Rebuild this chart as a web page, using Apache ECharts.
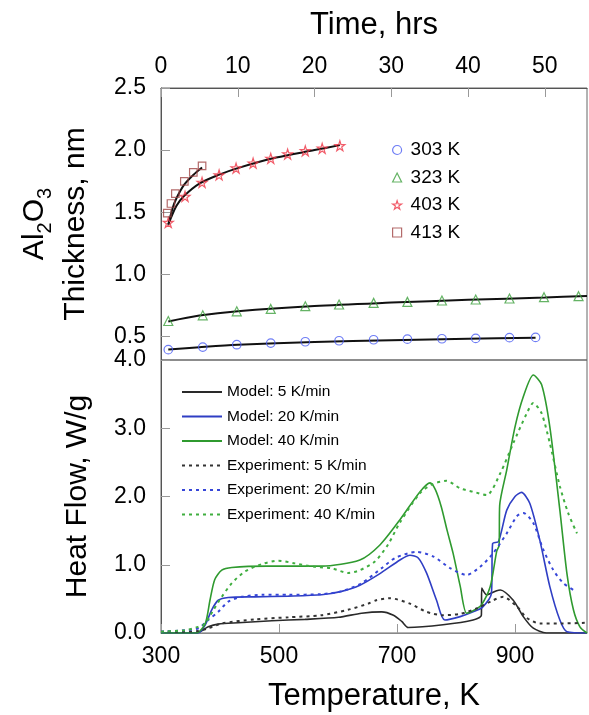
<!DOCTYPE html>
<html>
<head>
<meta charset="utf-8">
<script src="https://cdn.jsdelivr.net/npm/echarts@6/dist/echarts.min.js"></script>
<style>
html, body { margin: 0; padding: 0; background: #fff; }
#chart { width: 589px; height: 715px; }
</style>
</head>
<body>
<div id="chart"></div>
<script>
// top panel: oxide thickness vs time
var t303 = [0.95, 5.44, 9.87, 14.3, 18.8, 23.2, 27.7, 32.1, 36.6, 41.0, 45.4, 48.8];
var v303 = [0.393, 0.414, 0.433, 0.446, 0.457, 0.465, 0.473, 0.478, 0.481, 0.484, 0.49, 0.492];
var t323 = [0.95, 5.44, 9.87, 14.3, 18.8, 23.2, 27.7, 32.1, 36.6, 41.0, 45.4, 49.9, 54.4];
var v323 = [0.624, 0.670, 0.702, 0.721, 0.743, 0.757, 0.770, 0.778, 0.789, 0.797, 0.805, 0.816, 0.824];
var t403 = [0.95, 3.13, 5.35, 7.57, 9.78, 12.0, 14.3, 16.5, 18.8, 21.0, 23.3];
var v403 = [1.417, 1.627, 1.74, 1.80, 1.855, 1.895, 1.933, 1.968, 1.994, 2.014, 2.035];
var t413 = [0.82, 1.3, 1.87, 3.04, 4.21, 5.35];
var v413 = [1.492, 1.57, 1.65, 1.748, 1.82, 1.873];

// fitted curves (black)
var fit303T = [0.95, 5, 10, 20, 30, 40, 48.8];
var fit303V = [0.395, 0.413, 0.432, 0.455, 0.470, 0.481, 0.49];
var fit323T = [0.95, 5, 10, 20, 30, 40, 50, 55.5];
var fit323V = [0.62, 0.668, 0.703, 0.745, 0.772, 0.795, 0.813, 0.826];
var fit403T = [0.95, 2, 3, 5, 7.5, 10, 15, 20, 23.3];
var fit403V = [1.40, 1.55, 1.63, 1.73, 1.80, 1.855, 1.94, 2.0, 2.04];
var fit413T = [0.95, 1.5, 2, 3, 4.2, 5.35];
var fit413V = [1.40, 1.53, 1.61, 1.72, 1.80, 1.86];

// bottom panel: heat flow vs temperature
var m5T = [300, 360, 380, 397, 431, 488, 544, 601, 640, 674, 694, 708, 719, 778, 829, 843, 843.5, 852, 869, 875, 897, 914, 931, 953, 1022];
var m5V = [0, 0, 0.09, 0.13, 0.15, 0.18, 0.20, 0.23, 0.29, 0.31, 0.26, 0.17, 0.08, 0.12, 0.19, 0.26, 0.66, 0.56, 0.62, 0.63, 0.48, 0.24, 0.07, 0, 0];
var m20T = [300, 363, 375, 386, 397, 414, 459, 516, 572, 606, 637, 671, 705, 722, 736, 750, 767, 781, 807, 829, 845, 860, 862, 872, 886, 900, 911, 925, 942, 959, 976, 988, 1022];
var m20V = [0, 0, 0.12, 0.34, 0.48, 0.52, 0.53, 0.54, 0.56, 0.61, 0.70, 0.87, 1.07, 1.14, 1.10, 0.88, 0.48, 0.19, 0.24, 0.31, 0.38, 0.58, 1.31, 1.34, 1.80, 2.0, 2.06, 1.90, 1.36, 0.68, 0.19, 0.02, 0];
var m40T = [300, 360, 375, 383, 391, 403, 420, 480, 572, 637, 671, 705, 739, 756, 765, 775, 785, 795, 807, 818, 832, 843, 858, 869, 873, 874, 886, 900, 914, 931, 945, 959, 976, 988, 999, 1010, 1022];
var m40V = [0, 0, 0.14, 0.48, 0.78, 0.92, 0.96, 0.98, 0.98, 1.07, 1.29, 1.66, 2.07, 2.2, 2.1, 1.85, 1.50, 1.17, 0.69, 0.29, 0.34, 0.41, 0.68, 1.20, 1.28, 1.87, 2.39, 3.02, 3.46, 3.78, 3.64, 3.02, 1.80, 0.87, 0.34, 0.09, 0];
var e5T = [300, 340, 363, 380, 403, 459, 516, 572, 617, 651, 665, 688, 722, 750, 778, 807, 835, 863, 880, 903, 920, 942, 980, 1020];
var e5V = [0.02, 0.02, 0.03, 0.07, 0.14, 0.20, 0.23, 0.26, 0.34, 0.43, 0.48, 0.51, 0.43, 0.31, 0.26, 0.28, 0.36, 0.48, 0.53, 0.39, 0.22, 0.14, 0.14, 0.15];
var e20T = [300, 340, 363, 380, 397, 414, 437, 471, 516, 572, 606, 640, 674, 697, 733, 762, 790, 818, 841, 863, 886, 903, 914, 931, 948, 965, 982, 999];
var e20V = [0.02, 0.04, 0.07, 0.19, 0.31, 0.46, 0.53, 0.56, 0.56, 0.57, 0.61, 0.73, 0.95, 1.10, 1.19, 1.12, 0.95, 0.85, 0.97, 1.17, 1.46, 1.71, 1.76, 1.61, 1.22, 0.92, 0.73, 0.63];
var e40T = [300, 340, 363, 375, 389, 403, 420, 442, 471, 499, 527, 561, 589, 617, 637, 663, 685, 705, 739, 760, 784, 807, 829, 852, 875, 897, 920, 931, 945, 959, 976, 990, 1005];
var e40V = [0.02, 0.04, 0.09, 0.14, 0.34, 0.53, 0.73, 0.90, 1.01, 1.06, 1.02, 0.97, 0.95, 0.88, 0.92, 1.05, 1.30, 1.62, 2.05, 2.18, 2.23, 2.12, 2.07, 2.02, 2.34, 2.78, 3.22, 3.37, 3.22, 2.78, 2.15, 1.76, 1.46];

var timeLabels = [0, 10, 20, 30, 40, 50];
var tempLabels = [300, 500, 700, 900];
var heatLabels = [0, 1, 2, 3, 4];
var thickLabels = [0.5, 1.0, 1.5, 2.0, 2.5];

function pairs(xs, ys) {
	return xs.map(function(x, i) { return [x, ys[i]]; });
}

var font = 'Liberation Sans, Arial, Helvetica, sans-serif';
var starPath = 'path://M50,0 L61,35 L98,35 L68,57 L79,91 L50,70 L21,91 L32,57 L2,35 L39,35 Z';
var clear = 'rgba(255,255,255,0)';

function marks(name, xs, ys, symbol, color, size) {
	return {
		name: name, type: 'scatter', xAxisIndex: 0, yAxisIndex: 0,
		symbol: symbol, symbolSize: size, z: 3,
		itemStyle: { color: clear, borderColor: color, borderWidth: 1.2 },
		data: pairs(xs, ys)
	};
}

function fit(xs, ys) {
	return {
		type: 'line', xAxisIndex: 0, yAxisIndex: 0, smooth: 0.3,
		symbol: 'none', z: 2, silent: true,
		lineStyle: { color: '#111', width: 2 },
		data: pairs(xs, ys)
	};
}

function flow(name, xs, ys, color, dotted) {
	return {
		name: name, type: 'line', xAxisIndex: 1, yAxisIndex: 1,
		symbol: 'none', smooth: 0.25,
		lineStyle: { color: color, width: dotted ? 2 : 1.6, type: dotted ? [3, 4] : 'solid' },
		itemStyle: { color: color },
		data: pairs(xs, ys)
	};
}

var chart = echarts.init(document.getElementById('chart'));

var lineStyle = { show: true, lineStyle: { color: '#555', width: 1 } };

function ticks(values) {
	return { show: true, inside: true, length: 9, lineStyle: { color: '#999' }, customValues: values };
}

option = {
	animation: false,
	backgroundColor: '#fff',
	textStyle: { fontFamily: font, color: '#000' },
	grid: [
		{ left: 161, top: 88, width: 426, height: 272, show: true, borderColor: '#666', borderWidth: 1 },
		{ left: 161, top: 360, width: 426, height: 273, show: true, borderColor: '#666', borderWidth: 1 }
	],
	xAxis: [
		{
			type: 'value', gridIndex: 0, position: 'top', min: 0, max: 55.5,
			name: 'Time, hrs', nameLocation: 'middle', nameGap: 47,
			nameTextStyle: { fontSize: 31, lineHeight: 31, fontFamily: font },
			axisLine: lineStyle, axisTick: ticks(timeLabels), splitLine: { show: false },
			axisLabel: { fontSize: 23, margin: 10, color: '#000', fontFamily: font, customValues: timeLabels }
		},
		{
			type: 'value', gridIndex: 1, min: 300, max: 1022,
			name: 'Temperature, K', nameLocation: 'middle', nameGap: 48,
			nameTextStyle: { fontSize: 31, lineHeight: 31, fontFamily: font },
			axisLine: { show: true, lineStyle: { color: '#888', width: 1 } }, splitLine: { show: false },
			axisTick: ticks(tempLabels),
			axisLabel: { fontSize: 23, margin: 12, color: '#000', fontFamily: font, customValues: tempLabels }
		}
	],
	yAxis: [
		{
			type: 'value', gridIndex: 0, min: 0.31, max: 2.5,
			name: '{a|Al}{s|2}{a|O}{s|3}\n{a|Thickness, nm}', nameLocation: 'middle', nameGap: 65,
			nameTextStyle: {
				fontFamily: font,
				rich: {
					a: { fontSize: 30, lineHeight: 41, fontFamily: font },
					s: { fontSize: 20, lineHeight: 26, verticalAlign: 'bottom', fontFamily: font }
				}
			},
			axisLine: lineStyle, splitLine: { show: false },
			axisTick: ticks(thickLabels),
			axisLabel: {
				fontSize: 23, margin: 15, color: '#000', fontFamily: font, customValues: thickLabels,
				formatter: function(v) { return v.toFixed(1); }
			}
		},
		{
			type: 'value', gridIndex: 1, min: 0, max: 4,
			name: 'Heat Flow, W/g', nameLocation: 'middle', nameGap: 68,
			nameTextStyle: { fontSize: 30, lineHeight: 30, fontFamily: font },
			axisLine: lineStyle, splitLine: { show: false },
			axisTick: ticks(heatLabels),
			axisLabel: {
				fontSize: 23, margin: 15, color: '#000', fontFamily: font, customValues: heatLabels,
				formatter: function(v) { return v.toFixed(1); }
			}
		}
	],
	legend: [
		{
			orient: 'vertical', left: 387, top: 135, itemWidth: 9, itemHeight: 9, itemGap: 7.5,
			itemStyle: { borderWidth: 1.2 },
			textStyle: { fontSize: 19, lineHeight: 20, color: '#000', fontFamily: font, padding: [0, 0, 0, 4] },
			data: ['303 K', '323 K', '403 K', '413 K']
		},
		{
			orient: 'vertical', left: 176, top: 379, itemWidth: 40, itemHeight: 10, itemGap: 8.5,
			itemStyle: { opacity: 0, borderWidth: 0 },
			textStyle: { fontSize: 15.5, lineHeight: 16, color: '#000', fontFamily: font },
			data: ['Model: 5 K/min', 'Model: 20 K/min', 'Model: 40 K/min',
				'Experiment: 5 K/min', 'Experiment: 20 K/min', 'Experiment: 40 K/min']
		}
	],
	series: [
		marks('303 K', t303, v303, 'circle', '#4a5cf2', 8.5),
		marks('323 K', t323, v323, 'triangle', '#3fa03f', 9),
		marks('403 K', t403, v403, starPath, '#ee3344', 10),
		marks('413 K', t413, v413, 'rect', '#a04545', 7.5),
		fit(fit303T, fit303V),
		fit(fit323T, fit323V),
		fit(fit403T, fit403V),
		fit(fit413T, fit413V),
		flow('Model: 5 K/min', m5T, m5V, '#2a2a2a', false),
		flow('Model: 20 K/min', m20T, m20V, '#2f3ec4', false),
		flow('Model: 40 K/min', m40T, m40V, '#2f9a2f', false),
		flow('Experiment: 5 K/min', e5T, e5V, '#333333', true),
		flow('Experiment: 20 K/min', e20T, e20V, '#3646d8', true),
		flow('Experiment: 40 K/min', e40T, e40V, '#3fae3f', true)
	]
};

chart.setOption(option);
</script>
</body>
</html>
